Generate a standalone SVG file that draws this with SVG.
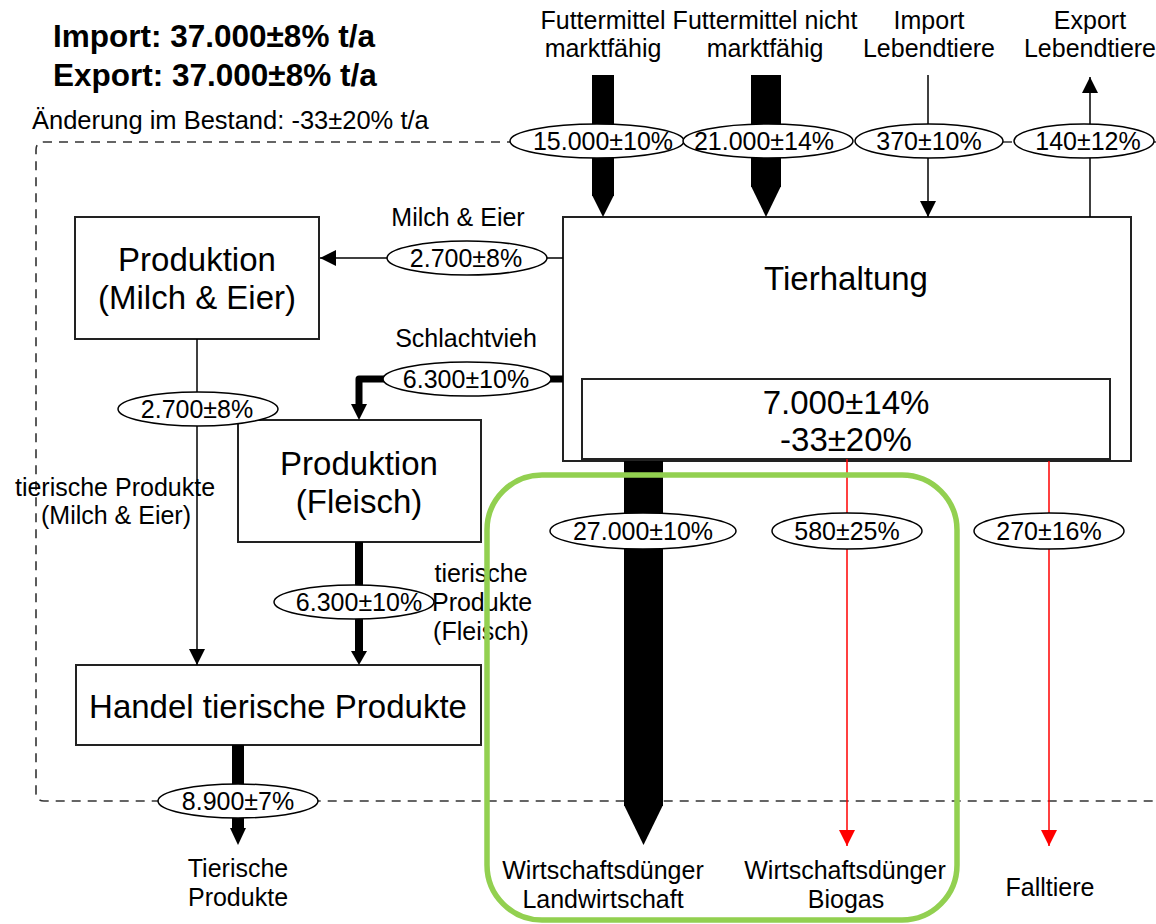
<svg xmlns="http://www.w3.org/2000/svg" width="1156" height="924" viewBox="0 0 1156 924">
  <style>
    text { font-family: "Liberation Sans", Arial, sans-serif; fill: #000; }
    .title { font-size: 31.5px; font-weight: bold; }
    .note { font-size: 25.5px; }
    .lbl { font-size: 25px; text-anchor: middle; }
    .val { font-size: 25px; text-anchor: middle; }
    .big { font-size: 33px; text-anchor: middle; }
    .box { fill: #fff; stroke: #222; stroke-width: 2; }
    .ell { fill: #fff; stroke: #000; stroke-width: 1.5; }
    .thin { fill: none; stroke: #000; stroke-width: 1.5; }
    .red { fill: none; stroke: #ff0000; stroke-width: 1.5; }
    .bound { fill: none; stroke: #333; stroke-width: 1.6; stroke-dasharray: 9 7; }
    .focus { fill: none; stroke: #92d050; stroke-width: 5.5; }
  </style>
  <defs>
    <marker id="ah" viewBox="0 0 16 16" refX="16" refY="8" markerWidth="16" markerHeight="16" orient="auto" markerUnits="userSpaceOnUse">
      <path d="M0,0 L16,8 L0,16 z" fill="#000"/>
    </marker>
    <marker id="ah-red" viewBox="0 0 16 16" refX="16" refY="8" markerWidth="16" markerHeight="16" orient="auto" markerUnits="userSpaceOnUse">
      <path d="M0,0 L16,8 L0,16 z" fill="#ff0000"/>
    </marker>
  </defs>

  <rect width="1156" height="924" fill="#fff"/>

  <!-- summary -->
  <g id="summary">
    <text class="title" x="53" y="47">Import: 37.000±8% t/a</text>
    <text class="title" x="53" y="86">Export: 37.000±8% t/a</text>
    <text class="note" x="32" y="129">Änderung im Bestand: -33±20% t/a</text>
  </g>

  <!-- system boundary -->
  <path id="boundary" class="bound" d="M1156,142 H44 Q36,142 36,150 V793 Q36,801 44,801 H1156"/>

  <!-- source / sink labels -->
  <g id="labels">
    <text class="lbl" x="603" y="29">Futtermittel</text>
    <text class="lbl" x="603" y="57">marktfähig</text>
    <text class="lbl" x="765" y="29">Futtermittel nicht</text>
    <text class="lbl" x="765" y="57">marktfähig</text>
    <text class="lbl" x="929" y="29">Import</text>
    <text class="lbl" x="929" y="57">Lebendtiere</text>
    <text class="lbl" x="1090" y="29">Export</text>
    <text class="lbl" x="1090" y="57">Lebendtiere</text>
    <text class="lbl" x="458" y="226">Milch &amp; Eier</text>
    <text class="lbl" x="466" y="347">Schlachtvieh</text>
    <text class="lbl" x="115" y="496">tierische Produkte</text>
    <text class="lbl" x="116" y="524">(Milch &amp; Eier)</text>
    <text class="lbl" x="481" y="582">tierische</text>
    <text class="lbl" x="482" y="611">Produkte</text>
    <text class="lbl" x="481" y="640">(Fleisch)</text>
    <text class="lbl" x="238" y="877">Tierische</text>
    <text class="lbl" x="238" y="906">Produkte</text>
    <text class="lbl" x="603" y="879">Wirtschaftsdünger</text>
    <text class="lbl" x="603" y="908">Landwirtschaft</text>
    <text class="lbl" x="845" y="879">Wirtschaftsdünger</text>
    <text class="lbl" x="846" y="908">Biogas</text>
    <text class="lbl" x="1050" y="896">Falltiere</text>
  </g>

  <!-- nodes -->
  <g id="tierhaltung">
    <rect class="box" x="563" y="217" width="568" height="244"/>
    <text class="big" x="846" y="290">Tierhaltung</text>
  </g>
  <g id="bestand">
    <rect class="box" x="582" y="379" width="528" height="80"/>
    <text class="big" x="846" y="414">7.000±14%</text>
    <text class="big" x="846" y="451">-33±20%</text>
  </g>
  <g id="produktion-milch">
    <rect class="box" x="75" y="217" width="244" height="122"/>
    <text class="big" x="197" y="271">Produktion</text>
    <text class="big" x="197" y="309">(Milch &amp; Eier)</text>
  </g>
  <g id="produktion-fleisch">
    <rect class="box" x="238" y="420" width="243" height="122"/>
    <text class="big" x="359" y="475">Produktion</text>
    <text class="big" x="359" y="513">(Fleisch)</text>
  </g>
  <g id="handel">
    <rect class="box" x="76" y="665" width="405" height="80"/>
    <text class="big" x="278" y="718">Handel tierische Produkte</text>
  </g>

  <!-- flows -->
  <g id="connectors">
    <!-- feed inputs -->
    <rect x="592" y="75" width="22" height="121" fill="#000"/>
    <polygon points="592,195 614,195 603,217" fill="#000"/>
    <rect x="751" y="75" width="30" height="112" fill="#000"/>
    <polygon points="751,186 781,186 766,217" fill="#000"/>
    <!-- live animals -->
    <line class="thin" x1="928" y1="75" x2="928" y2="217" marker-end="url(#ah)"/>
    <line class="thin" x1="1090" y1="217" x2="1090" y2="77" marker-end="url(#ah)"/>
    <!-- milk & eggs -->
    <line class="thin" x1="563" y1="258" x2="320" y2="258" marker-end="url(#ah)"/>
    <line class="thin" x1="197" y1="339" x2="197" y2="665" marker-end="url(#ah)"/>
    <!-- slaughter animals -->
    <path d="M563,379 H359 V405" fill="none" stroke="#000" stroke-width="7" stroke-linejoin="round"/>
    <polygon points="351,404 367,404 359,420" fill="#000"/>
    <!-- meat products -->
    <line x1="359" y1="542" x2="359" y2="652" stroke="#000" stroke-width="8"/>
    <polygon points="351,651 367,651 359,665" fill="#000"/>
    <!-- trade output -->
    <line x1="238" y1="745" x2="238" y2="829" stroke="#000" stroke-width="12"/>
    <polygon points="230,828 246,828 238,845" fill="#000"/>
    <!-- manure to agriculture -->
    <rect x="624" y="461" width="39" height="345" fill="#000"/>
    <polygon points="624,805 663,805 643.5,845" fill="#000"/>
    <!-- manure to biogas, fallen stock -->
    <line class="red" x1="847" y1="459" x2="847" y2="846" marker-end="url(#ah-red)"/>
    <line class="red" x1="1049" y1="461" x2="1049" y2="846" marker-end="url(#ah-red)"/>
  </g>

  <!-- flow values -->
  <g id="values">
    <ellipse class="ell" cx="597" cy="141" rx="87" ry="17"/>
    <text class="val" x="603" y="150">15.000±10%</text>
    <ellipse class="ell" cx="768" cy="141" rx="85" ry="17"/>
    <text class="val" x="764" y="150">21.000±14%</text>
    <ellipse class="ell" cx="929" cy="141" rx="74" ry="17"/>
    <text class="val" x="929" y="150">370±10%</text>
    <ellipse class="ell" cx="1084" cy="141" rx="70" ry="17"/>
    <text class="val" x="1088" y="150">140±12%</text>

    <ellipse class="ell" cx="467" cy="258" rx="80" ry="17"/>
    <text class="val" x="466" y="267">2.700±8%</text>
    <ellipse class="ell" cx="467" cy="379" rx="84" ry="17"/>
    <text class="val" x="466" y="388">6.300±10%</text>
    <ellipse class="ell" cx="198" cy="409" rx="80" ry="17"/>
    <text class="val" x="197" y="418">2.700±8%</text>
    <ellipse class="ell" cx="354" cy="602" rx="80" ry="17"/>
    <text class="val" x="359" y="611">6.300±10%</text>
    <ellipse class="ell" cx="238" cy="801" rx="80" ry="17"/>
    <text class="val" x="238" y="810">8.900±7%</text>

    <ellipse class="ell" cx="643" cy="531" rx="93" ry="18"/>
    <text class="val" x="643" y="540">27.000±10%</text>
    <ellipse class="ell" cx="847" cy="531" rx="75" ry="18"/>
    <text class="val" x="847" y="540">580±25%</text>
    <ellipse class="ell" cx="1049" cy="531" rx="75" ry="18"/>
    <text class="val" x="1049" y="540">270±16%</text>
  </g>

  <!-- manure focus frame -->
  <rect id="focus" class="focus" x="487" y="475" width="470" height="445" rx="55" ry="55"/>
</svg>
